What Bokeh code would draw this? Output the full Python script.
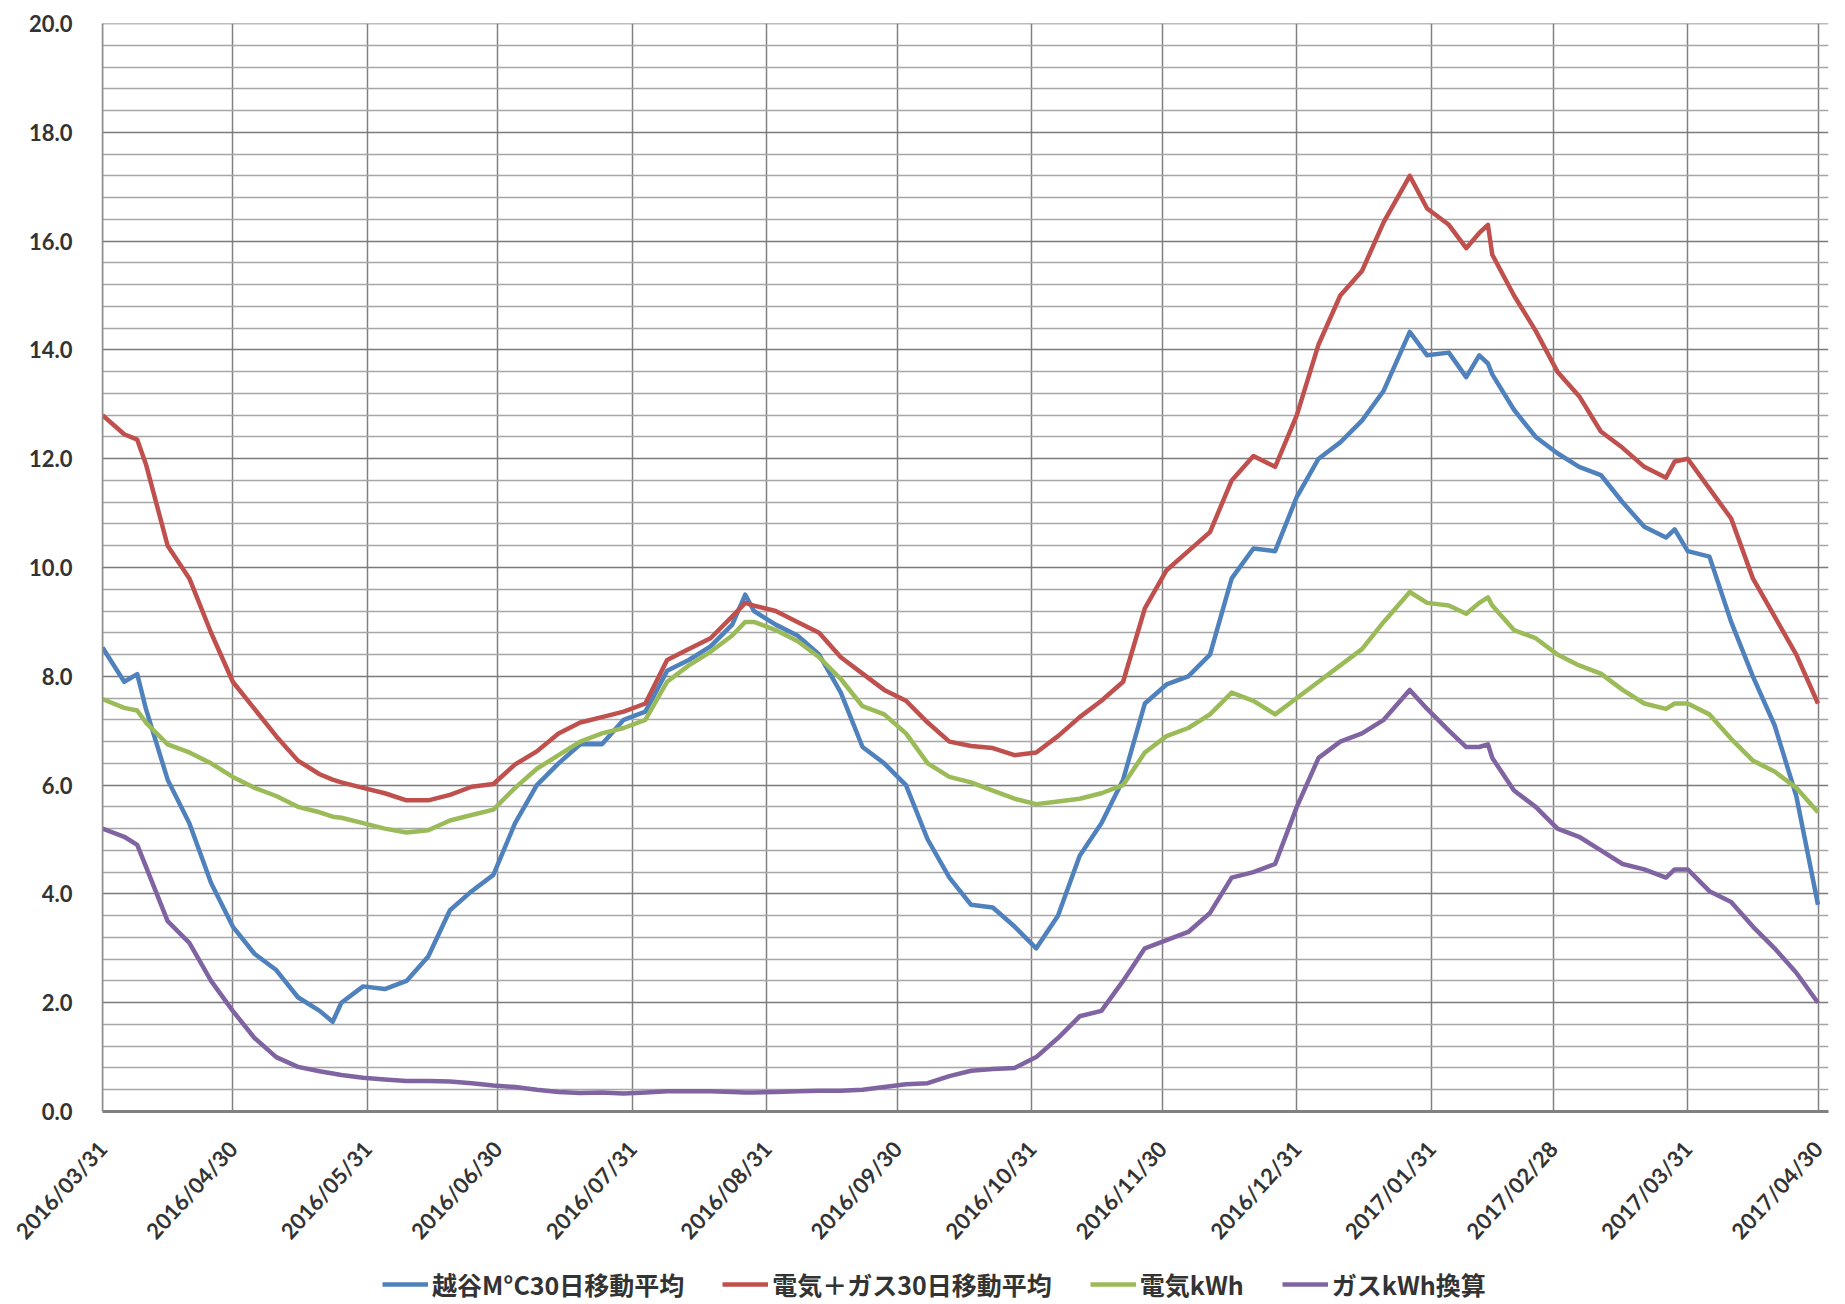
import pandas as pd
from bokeh.plotting import figure
from bokeh.layouts import column
from bokeh.models import (Range1d, FixedTicker, DatetimeTickFormatter, NumeralTickFormatter,
                          Legend, LegendItem, ColumnDataSource)
from bokeh.embed import file_html
from bokeh.resources import INLINE

# ---------------- data ----------------
start_date = "2016-03-31"
day_offsets = [0, 5, 8, 10, 15, 20, 25, 30, 35, 40, 45, 50, 53, 55, 60, 65, 70, 75, 80, 85,
               90, 95, 100, 105, 110, 115, 120, 125, 130, 135, 140, 145, 148, 150, 155, 160,
               165, 170, 175, 180, 185, 190, 195, 200, 205, 210, 215, 220, 225, 230, 235, 240,
               245, 250, 255, 260, 265, 270, 275, 280, 285, 290, 295, 301, 305, 310, 314, 317,
               319, 320, 325, 330, 335, 340, 345, 350, 355, 360, 362, 365, 370, 375, 380, 385,
               390, 395]

temp_30d = [8.53, 7.9, 8.04, 7.4, 6.1, 5.3, 4.2, 3.4, 2.9, 2.6, 2.1, 1.85, 1.65, 2.0, 2.3, 2.25,
            2.4, 2.85, 3.7, 4.05, 4.35, 5.3, 6.0, 6.4, 6.75, 6.75, 7.2, 7.35, 8.1, 8.3, 8.55, 8.95,
            9.5, 9.2, 8.95, 8.75, 8.4, 7.7, 6.7, 6.4, 6.0, 5.0, 4.3, 3.8, 3.75, 3.4, 3.0, 3.6,
            4.7, 5.3, 6.1, 7.5, 7.85, 8.0, 8.4, 9.8, 10.35, 10.3, 11.3, 12.0, 12.3, 12.7, 13.25,
            14.33, 13.9, 13.95, 13.5, 13.9, 13.75, 13.55, 12.9, 12.4, 12.1, 11.85, 11.7, 11.2,
            10.75, 10.55, 10.7, 10.3, 10.2, 9.0, 8.0, 7.1, 5.8, 3.8]

total_30d = [12.8, 12.45, 12.35, 11.9, 10.4, 9.8, 8.8, 7.9, 7.4, 6.9, 6.45, 6.2, 6.1, 6.05, 5.95,
             5.85, 5.72, 5.72, 5.82, 5.97, 6.02, 6.38, 6.62, 6.95, 7.15, 7.25, 7.35, 7.5, 8.3, 8.5,
             8.7, 9.1, 9.35, 9.3, 9.2, 9.0, 8.8, 8.35, 8.05, 7.75, 7.55, 7.15, 6.8, 6.72, 6.68,
             6.55, 6.6, 6.9, 7.25, 7.55, 7.9, 9.25, 9.95, 10.3, 10.65, 11.6, 12.05, 11.85, 12.8,
             14.1, 15.0, 15.45, 16.35, 17.2, 16.6, 16.3, 15.87, 16.15, 16.3, 15.75, 15.0, 14.35,
             13.6, 13.15, 12.5, 12.2, 11.85, 11.65, 11.95, 12.0, 11.45, 10.9, 9.8, 9.1, 8.4, 7.5]

elec_kwh = [7.58, 7.42, 7.37, 7.15, 6.75, 6.6, 6.4, 6.15, 5.95, 5.8, 5.6, 5.5, 5.42, 5.4, 5.3,
            5.2, 5.13, 5.17, 5.35, 5.45, 5.55, 5.95, 6.3, 6.55, 6.8, 6.95, 7.05, 7.2, 7.9, 8.2,
            8.45, 8.75, 9.0, 9.0, 8.85, 8.65, 8.35, 7.95, 7.45, 7.3, 6.95, 6.4, 6.15, 6.05, 5.9,
            5.75, 5.65, 5.7, 5.75, 5.85, 6.0, 6.6, 6.9, 7.05, 7.3, 7.7, 7.55, 7.3, 7.6, 7.9, 8.2,
            8.5, 9.0, 9.55, 9.35, 9.3, 9.15, 9.35, 9.45, 9.3, 8.85, 8.7, 8.4, 8.2, 8.05, 7.75,
            7.5, 7.4, 7.5, 7.5, 7.3, 6.85, 6.45, 6.25, 5.95, 5.5]

gas_kwh = [5.2, 5.05, 4.9, 4.5, 3.5, 3.1, 2.4, 1.85, 1.35, 1.0, 0.82, 0.74, 0.7, 0.67, 0.62,
           0.59, 0.56, 0.56, 0.55, 0.52, 0.48, 0.45, 0.4, 0.36, 0.34, 0.35, 0.33, 0.35, 0.37,
           0.37, 0.37, 0.36, 0.35, 0.35, 0.36, 0.37, 0.38, 0.38, 0.4, 0.45, 0.5, 0.52, 0.65,
           0.75, 0.78, 0.8, 1.0, 1.35, 1.75, 1.85, 2.4, 3.0, 3.15, 3.3, 3.65, 4.3, 4.4, 4.55,
           5.6, 6.5, 6.8, 6.95, 7.2, 7.75, 7.4, 7.0, 6.7, 6.7, 6.75, 6.5, 5.9, 5.6, 5.2, 5.05,
           4.8, 4.55, 4.45, 4.3, 4.45, 4.45, 4.05, 3.85, 3.4, 3.0, 2.55, 2.0]

series_cols = ["temp", "total", "elec", "gas"]
series_names = ["越谷M°C30日移動平均", "電気＋ガス30日移動平均", "電気kWh", "ガスkWh換算"]
series_colors = ["#4F81BD", "#C0504D", "#9BBB59", "#8064A2"]

month_end_ticks = ["2016-03-31", "2016-04-30", "2016-05-31", "2016-06-30", "2016-07-31",
                   "2016-08-31", "2016-09-30", "2016-10-31", "2016-11-30", "2016-12-31",
                   "2017-01-31", "2017-02-28", "2017-03-31", "2017-04-30"]
y_major_ticks = [0, 2, 4, 6, 8, 10, 12, 14, 16, 18, 20]
y_minor_step = 0.4
x_end = "2017-05-02 10:00"

# ---------------- build ----------------
assert all(len(s) == len(day_offsets) for s in (temp_30d, total_30d, elec_kwh, gas_kwh))
dates = pd.Timestamp(start_date) + pd.to_timedelta(day_offsets, unit="D")
src = ColumnDataSource(dict(date=dates, temp=temp_30d, total=total_30d, elec=elec_kwh, gas=gas_kwh))

def to_ms(s):
    return pd.Timestamp(s).value / 1e6

W = 1837
H_MAIN = 1256
H_LEG = 46

p = figure(width=W, height=H_MAIN, output_backend="svg", toolbar_location=None,
           x_axis_type="datetime",
           x_range=Range1d(to_ms(start_date) - 1, to_ms(x_end)),
           y_range=Range1d(0, 20.0001),
           min_border_left=102, min_border_right=9, min_border_top=23, min_border_bottom=140)
p.outline_line_color = None
p.background_fill_color = "white"
p.border_fill_color = "white"

# x axis
p.xaxis.ticker = FixedTicker(ticks=[to_ms(t) for t in month_end_ticks])
fmt = "%Y/%m/%d"
p.xaxis.formatter = DatetimeTickFormatter(microseconds=fmt, milliseconds=fmt, seconds=fmt,
                                          minsec=fmt, minutes=fmt, hourmin=fmt, hours=fmt,
                                          days=fmt, months=fmt, years=fmt)
p.xaxis.major_label_orientation = 0.83
p.xaxis.major_label_standoff = 33
p.xaxis.axis_line_color = "#808080"
p.xaxis.axis_line_width = 3

# y axis
minor = [round(i * y_minor_step, 2) for i in range(1, 50) if round(i * y_minor_step, 2) % 2 != 0]
p.yaxis.ticker = FixedTicker(ticks=y_major_ticks, minor_ticks=minor)
p.yaxis.formatter = NumeralTickFormatter(format="0.0")
p.yaxis.major_label_standoff = 30
p.yaxis.axis_line_color = "#8c8c8c"
p.yaxis.axis_line_width = 1.5

for ax in (p.xaxis, p.yaxis):
    ax.major_tick_line_color = None
    ax.minor_tick_line_color = None
    ax.major_tick_out = 0
    ax.major_tick_in = 0
    ax.minor_tick_out = 0
    ax.minor_tick_in = 0
    ax.major_label_text_font = "Lato"
    ax.major_label_text_font_style = "bold"
    ax.major_label_text_font_size = "22px"
    ax.major_label_text_color = "#333333"

# grids
p.xgrid.grid_line_color = "#808080"
p.xgrid.grid_line_width = 1.5
p.ygrid.grid_line_color = "#7a7a7a"
p.ygrid.grid_line_width = 1.6
p.ygrid.minor_grid_line_color = "#a6a6a6"
p.ygrid.minor_grid_line_width = 1.5

# lines
for col, color in zip(series_cols, series_colors):
    p.line("date", col, source=src, line_color=color, line_width=4.5, line_join="round")

# ---------------- legend strip below the chart ----------------
# (its ranges keep the copies of the series out of view; they only supply legend swatches)
lg = figure(width=W, height=H_LEG, output_backend="svg", toolbar_location=None,
            x_range=Range1d(-2, -1), y_range=Range1d(-2, -1),
            x_axis_location=None, y_axis_location=None,
            min_border=0, min_border_left=0, min_border_right=0,
            min_border_top=0, min_border_bottom=0)
lg.outline_line_color = None
lg.grid.visible = False
lg.background_fill_color = "white"
lg.border_fill_color = "white"
legend_renderers = [lg.line("date", col, source=src, line_color=c, line_width=4.5)
                    for col, c in zip(series_cols, series_colors)]

legend = Legend(items=[LegendItem(label=n, renderers=[r])
                       for n, r in zip(series_names, legend_renderers)],
                orientation="horizontal", location=(280, 0),
                glyph_width=46, glyph_height=24, label_standoff=4, spacing=38, padding=0,
                margin=0, border_line_color=None, background_fill_alpha=0,
                label_text_font="Noto Sans CJK JP", label_text_font_style="bold",
                label_text_font_size="25px", label_text_color="#333333")
lg.add_layout(legend, "center")

layout = column(p, lg, spacing=0)
open("out.html", "w").write(file_html(layout, INLINE))
